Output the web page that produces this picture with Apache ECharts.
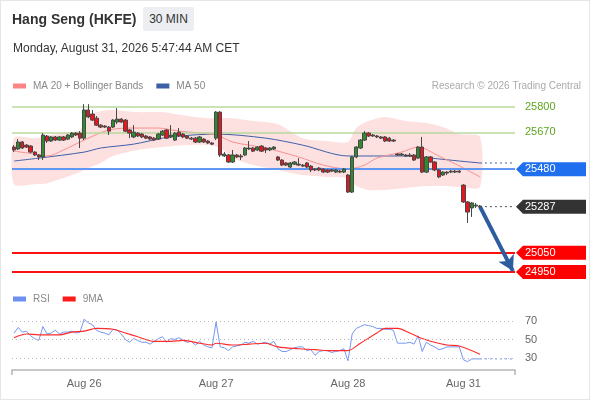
<!DOCTYPE html>
<html><head><meta charset="utf-8">
<script src="https://cdn.jsdelivr.net/npm/echarts@6/dist/echarts.min.js"></script>
<style>
html,body{margin:0;padding:0;background:#fff;}
body{width:590px;height:400px;overflow:hidden;position:relative;font-family:Arial,"Liberation Sans",sans-serif;}
#c{position:absolute;left:0;top:0;width:590px;height:400px;}
.t{position:absolute;pointer-events:none;color:#333;white-space:nowrap;}
#frame{position:absolute;left:0;top:0;width:590px;height:400px;box-sizing:border-box;border:1px solid #e6e6e6;pointer-events:none;}
</style></head>
<body>
<div id="c"></div>
<div class="t" style="left:12px;top:7px;height:24px;line-height:24px;font-weight:bold;font-size:14px;">Hang Seng (HKFE)</div>
<div class="t" style="left:143px;top:7px;width:51px;height:24px;line-height:24px;text-align:center;background:#eceef1;font-size:12px;border-radius:2px;">30 MIN</div>
<div class="t" style="left:13px;top:40px;line-height:16px;font-size:12px;">Monday, August 31, 2026 5:47:44 AM CET</div>
<div id="frame"></div>
<script>
// ---------- DATA ----------
const dayLabels = ['Aug 26', 'Aug 27', 'Aug 28', 'Aug 31'];
const dayStarts = [17, 49, 81, 109];
// [open, close, low, high]
const candles = [
[25594,25579,25568,25604],[25584,25620,25579,25635],[25620,25589,25584,25625],[25604,25594,25589,25609],
[25599,25568,25563,25604],[25568,25553,25548,25573],[25553,25543,25527,25558],[25543,25656,25527,25666],
[25651,25625,25615,25656],[25625,25646,25620,25651],[25646,25630,25625,25651],[25630,25646,25625,25651],
[25646,25630,25625,25651],[25635,25656,25630,25661],[25646,25666,25640,25671],[25666,25656,25651,25671],
[25666,25640,25589,25676],[25640,25785,25630,25815],[25785,25749,25743,25815],[25764,25733,25728,25785],
[25743,25707,25702,25754],[25707,25697,25692,25712],[25702,25697,25692,25707],[25697,25676,25656,25702],
[25697,25733,25692,25738],[25723,25738,25712,25795],[25738,25723,25718,25743],[25733,25676,25671,25738],
[25682,25666,25640,25687],[25646,25671,25640,25707],[25666,25651,25646,25671],[25661,25646,25640,25666],
[25651,25640,25635,25656],[25646,25635,25630,25651],[25640,25630,25625,25646],[25635,25661,25630,25666],
[25656,25676,25651,25682],[25682,25640,25635,25687],[25646,25656,25640,25707],[25630,25666,25625,25671],
[25671,25651,25646,25692],[25661,25646,25640,25666],[25651,25640,25635,25656],[25640,25635,25630,25646],
[25640,25620,25615,25646],[25620,25646,25615,25651],[25635,25620,25615,25640],[25625,25615,25609,25630],
[25615,25609,25604,25620],[25640,25774,25630,25779],[25774,25553,25543,25779],[25548,25558,25543,25568],
[25553,25517,25512,25558],[25517,25553,25512,25579],[25553,25543,25537,25558],[25548,25543,25527,25558],
[25553,25589,25548,25594],[25584,25589,25579,25625],[25589,25573,25568,25594],[25579,25594,25573,25599],
[25599,25573,25568,25604],[25589,25579,25563,25594],[25579,25589,25573,25594],[25584,25594,25579,25599],
[25543,25527,25522,25548],[25527,25501,25496,25532],[25512,25501,25496,25517],[25491,25512,25486,25517],
[25506,25517,25501,25522],[25506,25501,25496,25537],[25501,25496,25491,25506],[25512,25491,25486,25517],
[25496,25476,25465,25501],[25481,25476,25470,25486],[25486,25476,25470,25491],[25481,25465,25460,25486],
[25476,25465,25460,25481],[25476,25470,25465,25481],[25465,25476,25460,25481],[25470,25465,25460,25476],
[25465,25481,25460,25486],[25450,25362,25357,25455],[25362,25543,25357,25548],[25543,25594,25537,25599],
[25589,25630,25584,25635],[25630,25666,25625,25676],[25666,25651,25646,25671],[25656,25651,25646,25661],
[25651,25646,25640,25656],[25646,25640,25635,25651],[25646,25625,25620,25651],[25640,25625,25620,25646],
[25630,25625,25620,25635],[25558,25553,25548,25563],[25553,25558,25548,25563],[25553,25548,25543,25558],
[25548,25553,25543,25563],[25553,25527,25522,25558],[25537,25594,25532,25599],[25594,25465,25460,25646],
[25465,25543,25460,25548],[25543,25517,25512,25548],[25517,25476,25470,25522],[25476,25440,25434,25481],
[25450,25465,25445,25470],[25465,25460,25450,25470],[25465,25470,25460,25476],[25465,25470,25460,25476],
[25470,25465,25460,25476],[25398,25311,25306,25403],[25311,25259,25203,25316],[25280,25306,25234,25311],
[25290,25295,25280,25306],[25290,25287,25280,25295]
];
const ma20Idx = [0,5,8,12,17,23,29,35,40,49,53,61,69,75,81,85,88,94,98,103,109,113];
const ma20Val = [25573,25558,25548,25579,25630,25682,25692,25692,25676,25656,25620,25589,25543,25501,25481,25501,25537,25568,25594,25548,25486,25440];
const ma50Idx = [0,6,17,21,29,36,40,49,61,70,81,94,101,108,113];
const ma50Val = [25522,25537,25568,25589,25609,25640,25651,25661,25640,25604,25548,25548,25537,25522,25512];
const bandIdx = [0,5,8,12,16,18,21,24,30,36,42,47,50,53,58,64,70,76,81,83,86,90,95,100,104,108,113];
const bandUpper = [25640,25640,25651,25666,25682,25759,25779,25785,25774,25774,25754,25743,25743,25743,25728,25712,25640,25625,25620,25692,25728,25749,25728,25718,25697,25661,25646];
const bandLower = [25403,25403,25408,25434,25465,25486,25512,25548,25579,25594,25604,25604,25589,25537,25501,25476,25450,25440,25434,25393,25373,25373,25383,25393,25393,25388,25388];
const rsi = [57,63,58,59,54,51,49,64,56,57, 60,56,58,58,59,57,58,72,68,66, 60,58,57,55,61,60,56,50,47,51,
 49,47,47,45,48,51,53,47,51,50, 52,49,47,48,44,48,44,42,41,69, 42,41,38,42,43,44,47,46,48,45,
 46,47,45,48,40,37,37,39,41,42, 42,38,39,33,37,38,38,36,37,38, 40,27,56,62,64,66,65,64,62,62,
 61,61,60,46,46,46,47,45,54,37, 47,44,42,39,40,42,42,42,42,28, 26,29,29,29];
const rsiMaIdx = [0,3,6,9,11,14,17,20,24,27,30,34,38,41,45,48,49,53,57,61,64,69,73,76,81,84,88,90,93,96,99,102,105,108,113];
const rsiMaVal = [52,56,55,55,55,58,59,62,61,57,53,48,48,49,46,44,46,44,45,46,42,40,39,38,38,46,57,62,62,57,51,47,44,43,34];
const rsiLevels = [30, 50, 70];
const resistance2 = 25800, resistance1 = 25670, pivot = 25480, support1 = 25050, support2 = 24950;
const lastPrice = 25287;
const arrowTarget = 24955;

// ---------- CHART ----------
const SLOTS = 122;
const FONT = 'Arial, "Liberation Sans", sans-serif';
const cats = Array.from({length: SLOTS}, (_, i) => String(i));
const pair = (idx, vals) => idx.map((x, k) => [x, vals[k]]);
const lastIdx = candles.length - 1;
const endIdx = SLOTS - 1;
const chart = echarts.init(document.getElementById('c'));

const legendBase = {icon: 'rect', itemWidth: 13, itemHeight: 5, itemGap: 13, padding: 0, selectedMode: false,
  textStyle: {color: '#888', fontSize: 10, fontFamily: FONT, padding: [0, 0, 0, 2]}};
const option = {
  animation: false,
  textStyle: {fontFamily: FONT},
  legend: [
    Object.assign({data: ['MA 20 + Bollinger Bands', 'MA 50'], left: 13, top: 81}, legendBase),
    Object.assign({data: ['RSI', '9MA'], left: 13, top: 294}, legendBase)
  ],
  grid: [
    {left: 12, right: 75, top: 90, height: 190},
    {left: 12, right: 75, top: 305, height: 65}
  ],
  xAxis: [
    {type: 'category', data: cats, gridIndex: 0, show: false, boundaryGap: true},
    {type: 'category', data: cats, gridIndex: 1, boundaryGap: true,
     axisLine: {lineStyle: {color: '#b5b5b5', width: 1.5}},
     axisTick: {show: true, length: 5, interval: (i) => i === 0, lineStyle: {color: '#b5b5b5', width: 1.5}},
     axisLabel: {interval: (i) => dayStarts.indexOf(i) >= 0,
       formatter: (v) => { const k = dayStarts.indexOf(Number(v)); return k >= 0 ? dayLabels[k] : ''; },
       color: '#666', fontSize: 11, margin: 8},
     splitLine: {show: false}}
  ],
  yAxis: [
    {type: 'value', gridIndex: 0, min: 24909, max: 25888, show: false, splitLine: {show: false}},
    {type: 'value', gridIndex: 1, min: 17, max: 87.3, show: false, splitLine: {show: false}}
  ],
  series: [
    {type: 'custom', name: 'band', xAxisIndex: 0, yAxisIndex: 0, z: 1, silent: true,
     data: [[0, bandUpper[0]]],
     renderItem: function (params, api) {
       const up = bandIdx.map((x, k) => api.coord([x, bandUpper[k]]));
       const lo = bandIdx.map((x, k) => api.coord([x, bandLower[k]])).reverse();
       return {type: 'polygon', shape: {points: up.concat(lo), smooth: 0.25},
               style: {fill: 'rgba(250,170,170,0.36)'}};
     }},
    {type: 'line', name: 'levels', xAxisIndex: 0, yAxisIndex: 0, data: [], z: 2,
     markLine: {silent: true, symbol: 'none', label: {show: false}, animation: false,
       data: [
         {yAxis: resistance2, lineStyle: {color: '#b9da9e', width: 1.5, type: 'solid'}},
         {yAxis: resistance1, lineStyle: {color: '#b9da9e', width: 1.5, type: 'solid'}},
         {yAxis: pivot, lineStyle: {color: '#6097f3', width: 2, type: 'solid'}},
         {yAxis: support1, lineStyle: {color: '#ff1010', width: 2, type: 'solid'}},
         {yAxis: support2, lineStyle: {color: '#ff1010', width: 2, type: 'solid'}}
       ]}},
    {type: 'line', name: 'MA 50', xAxisIndex: 0, yAxisIndex: 0, z: 3, data: pair(ma50Idx, ma50Val),
     smooth: 0.3, showSymbol: false, symbol: 'none', color: '#3d5fa8', lineStyle: {color: '#3d5fa8', width: 1}},
    {type: 'line', name: 'MA 20 + Bollinger Bands', xAxisIndex: 0, yAxisIndex: 0, z: 3, data: pair(ma20Idx, ma20Val),
     smooth: 0.3, showSymbol: false, symbol: 'none', color: '#ff8585', lineStyle: {color: '#f59090', width: 1}},
    {type: 'line', name: 'ma50ext', xAxisIndex: 0, yAxisIndex: 0, z: 3,
     data: [[lastIdx, ma50Val[ma50Val.length - 1]], [endIdx, ma50Val[ma50Val.length - 1]]],
     showSymbol: false, symbol: 'none', lineStyle: {color: '#3d5fa8', width: 1, type: [2, 3]}},
    {type: 'candlestick', name: 'price', xAxisIndex: 0, yAxisIndex: 0, z: 5, data: candles, barWidth: 3.8,
     itemStyle: {color: '#2e8b2e', color0: '#e8161c', borderColor: '#484848', borderColor0: '#484848', borderWidth: 1}},
    {type: 'line', name: 'lastext', xAxisIndex: 0, yAxisIndex: 0, z: 4,
     data: [[lastIdx, lastPrice], [endIdx, lastPrice]],
     showSymbol: false, symbol: 'none', lineStyle: {color: '#555', width: 1, type: [2, 3]}},
    {type: 'line', name: 'arrow', xAxisIndex: 0, yAxisIndex: 0, data: [], z: 6,
     markLine: {silent: true, symbol: ['none', 'arrow'], symbolSize: [13, 15], label: {show: false}, animation: false,
       lineStyle: {color: '#2d5c9f', width: 4, type: 'solid'},
       data: [[{coord: [lastIdx, lastPrice]}, {coord: [endIdx, arrowTarget]}]]}},
    {type: 'line', name: 'RSI', xAxisIndex: 1, yAxisIndex: 1, data: rsi, z: 3,
     showSymbol: false, symbol: 'none', color: '#6d8ff0', lineStyle: {color: '#7396f2', width: 1},
     markLine: {silent: true, symbol: 'none', animation: false,
       lineStyle: {color: '#b8b8b8', width: 1, type: [1, 3]},
       label: {show: true, position: 'end', distance: 10, color: '#666', fontSize: 11, fontFamily: FONT},
       data: rsiLevels.map(v => ({yAxis: v}))}},
    {type: 'line', name: 'rsiext', xAxisIndex: 1, yAxisIndex: 1, z: 3,
     data: [[lastIdx, rsi[lastIdx]], [endIdx, rsi[lastIdx]]],
     showSymbol: false, symbol: 'none', lineStyle: {color: '#7396f2', width: 1, type: [2, 3]}},
    {type: 'line', name: '9MA', xAxisIndex: 1, yAxisIndex: 1, z: 4, data: pair(rsiMaIdx, rsiMaVal),
     smooth: 0.3, showSymbol: false, symbol: 'none', color: '#ff1a1a', lineStyle: {color: '#ff2a2a', width: 1.1}}
  ]
};
chart.setOption(option);

// right-hand level labels, placed through the price axis
const yOf = v => chart.convertToPixel({yAxisIndex: 0}, v);
const g = [];
g.push({type: 'text', right: 9, top: 81, silent: true,
  style: {text: 'Research \u00a9 2026 Trading Central', fill: '#aaa', font: '10px ' + FONT}});
function plainLabel(v, color) {
  g.push({type: 'text', x: 525, y: yOf(v), silent: true,
    style: {text: String(v), fill: color, font: '11px ' + FONT, verticalAlign: 'middle', textVerticalAlign: 'middle'}});
}
function tagLabel(v, bg) {
  const y = yOf(v);
  g.push({type: 'polygon', silent: true, shape: {points: [[516, y], [523, y - 7], [586, y - 7], [586, y + 7], [523, y + 7]]},
    style: {fill: bg}});
  g.push({type: 'text', x: 525, y: y, silent: true,
    style: {text: String(v), fill: '#fff', font: '11px ' + FONT, verticalAlign: 'middle', textVerticalAlign: 'middle'}});
}
plainLabel(resistance2, '#5ea41e');
plainLabel(resistance1, '#5ea41e');
tagLabel(pivot, '#1f6fee');
tagLabel(lastPrice, '#333333');
tagLabel(support1, '#ff0000');
tagLabel(support2, '#ff0000');
chart.setOption({graphic: g});
</script>
</body></html>
